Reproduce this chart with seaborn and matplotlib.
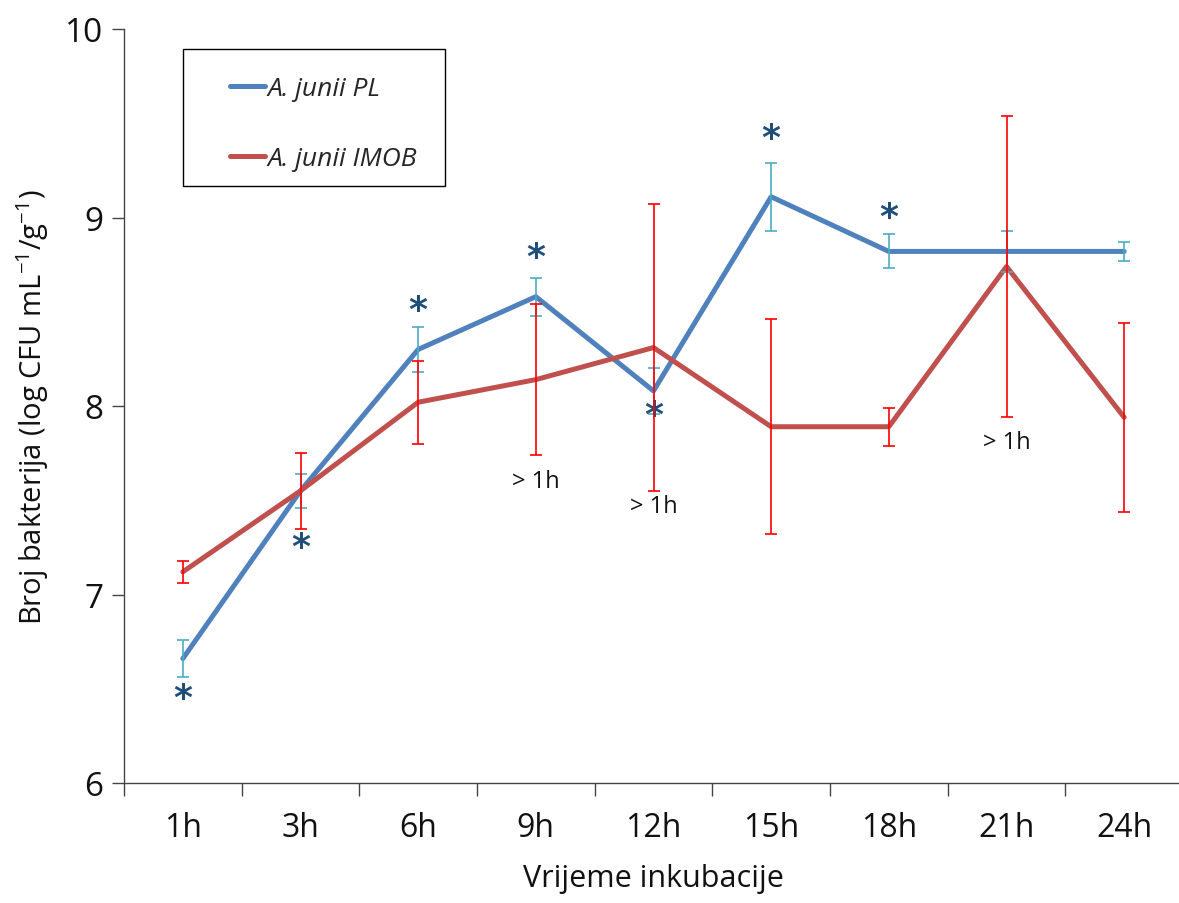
import numpy as np
import pandas as pd
import matplotlib
matplotlib.use("Agg")
import matplotlib.pyplot as plt
from matplotlib.patches import Rectangle
import seaborn as sns

times = ["1h", "3h", "6h", "9h", "12h", "15h", "18h", "21h", "24h"]
pl_mean = [6.66, 7.55, 8.30, 8.58, 8.08, 9.11, 8.82, 8.82, 8.82]
pl_err = [0.10, 0.09, 0.12, 0.10, 0.12, 0.18, 0.09, 0.11, 0.05]
imob_mean = [7.12, 7.55, 8.02, 8.14, 8.31, 7.89, 7.89, 8.74, 7.94]
imob_err = [0.06, 0.20, 0.22, 0.40, 0.76, 0.57, 0.10, 0.80, 0.50]
series_names = ["A. junii PL", "A. junii IMOB"]
star_pos = {0: 6.45, 1: 7.25, 2: 8.51, 3: 8.79, 4: 7.95, 5: 9.42, 6: 9.00}
gt_pos = {3: 7.60, 4: 7.47, 7: 7.81}

sns.set_style("white")
plt.rcParams['font.family'] = ['Open Sans', 'DejaVu Sans']
plt.rcParams['mathtext.fontset'] = 'custom'
plt.rcParams['mathtext.rm'] = 'Open Sans'
plt.rcParams['mathtext.it'] = 'Open Sans:italic'

df = pd.DataFrame({
    "x": list(range(len(times))) * 2,
    "y": pl_mean + imob_mean,
    "series": [series_names[0]] * len(times) + [series_names[1]] * len(times),
})

fig = plt.figure(figsize=(11.79, 9.04), dpi=100)
ax = fig.add_axes([124 / 1179, 1 - 784 / 904, (1183 - 124) / 1179, (784 - 30) / 904])

blue = "#4F81BD"
red = "#C0504D"
sns.lineplot(data=df, x="x", y="y", hue="series", palette=[blue, red],
             linewidth=3.6, ax=ax, legend=True, sort=False)

x = np.arange(len(times))
ax.errorbar(x, pl_mean, yerr=pl_err, fmt="none", ecolor="#4BACC6",
            elinewidth=1.2, capsize=4.5, capthick=1.2, zorder=3)
ax.errorbar(x, imob_mean, yerr=imob_err, fmt="none", ecolor="#FF0000",
            elinewidth=1.2, capsize=4.5, capthick=1.2, zorder=4)

for i, yv in star_pos.items():
    ax.text(i, yv, "*", ha="center", va="center", fontsize=26,
            fontweight="bold", color="#1F4E79", family="DejaVu Sans")
for i, yv in gt_pos.items():
    ax.text(i, yv, "> 1h", ha="center", va="center", fontsize=17, color="#111111")

ax.set_xlim(-0.5, 8.5)
ax.set_ylim(6, 10)
ax.set_yticks([6, 7, 8, 9, 10])
ax.set_xticks(x)
ax.set_xticklabels(times)
ax.set_xticks(np.arange(-0.5, 9.0, 1.0), minor=True)
ax.tick_params(axis="x", which="major", bottom=True, length=0, labelsize=23, pad=20,
               labelcolor="#111111")
ax.tick_params(axis="x", which="minor", bottom=True, length=9, width=1, color="#444444", direction="out")
ax.tick_params(axis="y", which="major", left=True, length=9, width=1, color="#444444",
               direction="out", labelsize=24, pad=6, labelcolor="#111111")
for s in ["top", "right"]:
    ax.spines[s].set_visible(False)
for s in ["left", "bottom"]:
    ax.spines[s].set_color("#444444")
    ax.spines[s].set_linewidth(1)

ax.set_xlabel("Vrijeme inkubacije", fontsize=22, labelpad=14, color="#111111")
ax.set_ylabel(r"Broj bakterija (log CFU mL$^{-1}$/g$^{-1}$)", fontsize=21, labelpad=10,
              color="#111111")

# legend frame (separate box) and frameless legend inside
ax.add_patch(Rectangle(((183 - 124) / 1059, 1 - (187 - 30) / 754),
                       (445 - 183) / 1059, (187 - 50) / 754,
                       transform=ax.transAxes, fill=True, facecolor="white",
                       edgecolor="black", linewidth=1, zorder=5, clip_on=False))
handles, labels = ax.get_legend_handles_labels()
leg = ax.legend(handles, labels, loc="upper left",
                bbox_to_anchor=((230 - 124) / 1059, 1 - (77 - 30) / 754),
                frameon=False, prop={"style": "italic", "size": 19},
                handlelength=1.33, handletextpad=0.1, labelspacing=1.7,
                borderpad=0, borderaxespad=0)
leg.set_zorder(6)

fig.savefig("out.png", dpi=100)
